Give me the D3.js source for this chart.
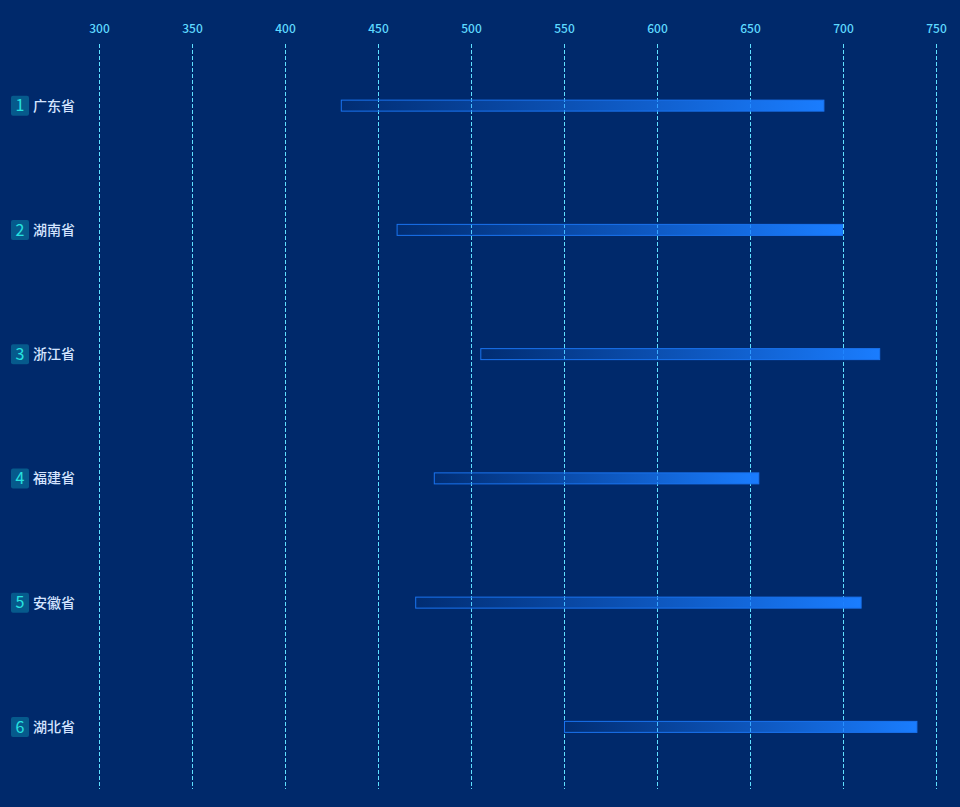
<!DOCTYPE html>
<html><head><meta charset="utf-8">
<script src="https://cdn.jsdelivr.net/npm/d3@7"></script>
<style>html,body{margin:0;padding:0;background:#00296b;}svg{display:block;}</style>
</head><body>
<svg id="chart" width="960" height="807"></svg>
<script>
const provinces = ["广东省","湖南省","浙江省","福建省","安徽省","湖北省"];
const startValues = [430, 460, 505, 480, 470, 550];
const endValues = [690, 700, 720, 655, 710, 740];
const tickValues = [300,350,400,450,500,550,600,650,700,750];

const W = 960, H = 807;
const FONT = "'Microsoft YaHei','Noto Sans CJK SC',sans-serif";
const svg = d3.select("#chart");
svg.append("rect").attr("width",W).attr("height",H).attr("fill","#00296b");

const x = d3.scaleLinear().domain([300,750]).range([99,936]);
const y = d3.scaleBand().domain(provinces).range([43.5,789]);

const defs = svg.append("defs");
const data = provinces.map((p,i)=>({p, s:startValues[i], e:endValues[i], i}));
data.forEach(d=>{
  const g = defs.append("linearGradient").attr("id","g"+d.i)
    .attr("gradientUnits","userSpaceOnUse")
    .attr("x1",x(d.s)).attr("x2",x(d.e)).attr("y1",0).attr("y2",0);
  g.append("stop").attr("offset","0%").attr("stop-color","#1677ff").attr("stop-opacity",0.05);
  g.append("stop").attr("offset","100%").attr("stop-color","#1a7dff").attr("stop-opacity",1);
});

// grid
svg.append("g").selectAll("line").data(tickValues).join("line")
  .attr("x1",d=>Math.round(x(d))+0.5).attr("x2",d=>Math.round(x(d))+0.5)
  .attr("y1",44).attr("y2",789)
  .attr("stroke","#5fe0ff").attr("stroke-width",1).attr("stroke-dasharray","4,2");

// axis labels
const axis = d3.axisTop(x).tickValues(tickValues).tickSize(0).tickPadding(0);
const ag = svg.append("g").attr("transform","translate(0,33)").call(axis);
ag.select(".domain").remove();
ag.selectAll("text").attr("fill","#5fd9ff").attr("font-size",12).attr("font-weight",500)
  .attr("font-family",FONT);

// bars
const bh = 12;
svg.append("g").selectAll("rect").data(data).join("rect")
  .attr("x",d=>x(d.s)+0.5).attr("y",d=>y(d.p)+y.bandwidth()/2-bh/2+0.5)
  .attr("width",d=>x(d.e)-x(d.s)-1).attr("height",bh-1)
  .attr("fill",d=>"url(#g"+d.i+")")
  .attr("stroke","#1a74f0").attr("stroke-width",1);

// labels
const lg = svg.append("g").selectAll("g").data(data).join("g")
  .attr("transform",d=>`translate(0,${y(d.p)+y.bandwidth()/2})`);
lg.append("rect").attr("x",11).attr("y",-10).attr("width",18).attr("height",20).attr("rx",2)
  .attr("fill","#065a8c");
lg.append("text").attr("x",20).attr("y",0).attr("dy","0.36em").attr("text-anchor","middle")
  .attr("fill","#27e3e0").attr("font-size",16)
  .attr("font-family",FONT)
  .text(d=>d.i+1);
lg.append("text").attr("x",33).attr("y",0).attr("dy","0.36em")
  .attr("fill","#d4e4ff").attr("font-size",14).attr("font-weight",500)
  .attr("font-family",FONT)
  .text(d=>d.p);
</script>
</body></html>
